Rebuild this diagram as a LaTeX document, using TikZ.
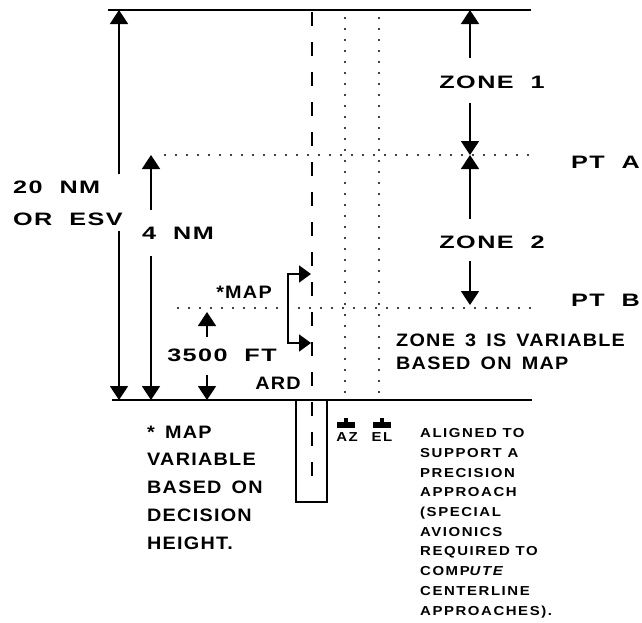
\documentclass[tikz,border=0pt]{standalone}
\usepackage{fontspec}
\setmainfont{Liberation Sans}
\newfontfamily\widefont{Liberation Sans}[FakeStretch=1.4,LetterSpace=8,WordSpace=2]
\newfontfamily\lblfont{Liberation Sans}[FakeStretch=1.1,LetterSpace=7,WordSpace=1.5]
\newfontfamily\notefont{Liberation Sans}[FakeStretch=1.15,LetterSpace=12]
\usetikzlibrary{arrows.meta,calc,positioning}

\begin{document}
\begin{tikzpicture}[x=1pt,y=-1pt,
  wide/.style={inner sep=0pt, font=\widefont\bfseries\fontsize{18}{18}\selectfont},
  lbl/.style={inner sep=0pt, font=\lblfont\bfseries\fontsize{18}{18}\selectfont},
  note/.style={inner sep=0pt, align=left, font=\notefont\bfseries\fontsize{13}{19.7}\selectfont},
  dim/.style={line width=1.8pt, -{Triangle[width=18pt,length=14pt]}},
  bracket/.style={line width=1.8pt, {Triangle[width=17pt,length=12pt]}-{Triangle[width=17pt,length=12pt]}},
  ground/.style={line width=2.2pt},
  centerline/.style={line width=1.8pt, dash pattern=on 14pt off 16pt},
  dotline/.style={line width=2.4pt, line cap=round, dash pattern=on 0pt off 11pt},
]
\useasboundingbox (0,0) rectangle (642,622);

% Levels
\coordinate (top) at (0,10);
\coordinate (ptA) at (0,155);
\coordinate (ptB) at (0,308);
\coordinate (grd) at (0,400);

% Centre line, AZ and EL lines
\draw[centerline] (312,12) -- (312,492);
\draw[dotline] (345,18) -- (345,398);
\draw[dotline] (379,18) -- (379,398);

% Point lines
\draw[dotline] (165,155) -- (531,155);
\draw[dotline] (178,308) -- (531,308);
\node[wide, anchor=west] (pta) at (571,162) {PT A};
\node[wide, anchor=west] (ptb) at (571,300) {PT B};

% Top and ground
\draw[ground] (108,10) -- (531,10);
\draw[ground] (112,400) -- (532,400);

% Runway
\draw[line width=1.5pt] (296,400) rectangle (327,502);

% AZ / EL antennas
\fill (337,422) rectangle (355,428);
\fill (344,418) rectangle (348,422);
\fill (373,422) rectangle (391,428);
\fill (380,418) rectangle (384,422);
\node[inner sep=0pt, font=\notefont\bfseries\fontsize{13}{13}\selectfont] (az) at (347,437) {AZ};
\node[inner sep=0pt, font=\notefont\bfseries\fontsize{13}{13}\selectfont] (el) at (382,437) {EL};

% 20 NM
\coordinate (x20) at (119,0);
\node[wide, align=left, anchor=west, font=\widefont\bfseries\fontsize{18}{32}\selectfont] (nm20) at (13,203) {20 NM\\OR ESV};
\draw[dim, shorten <=6pt] (nm20.north -| x20) -- (x20 |- top);
\draw[dim, shorten <=5pt] (nm20.south -| x20) -- (x20 |- grd);

% 4 NM
\coordinate (x4) at (151,0);
\node[wide] (nm4) at (178,233) {4 NM};
\draw[dim, shorten <=17pt] (nm4.north -| x4) -- (x4 |- ptA);
\draw[dim, shorten <=17pt] (nm4.south -| x4) -- (x4 |- grd);

% 3500 FT
\coordinate (x35) at (207,0);
\node[wide] (ft) at (222,355) {3500 FT};
\draw[dim, shorten <=11pt, shorten >=4pt] (ft.north -| x35) -- (x35 |- ptB);
\draw[dim, shorten <=13pt] (ft.south -| x35) -- (x35 |- grd);
\node[lbl] (ard) at (278,383) {ARD};

% MAP
\node[lbl] (map) at (244,292) {*MAP};
\coordinate (mapA) at (311,274);
\coordinate (mapB) at (311,343);
\draw[bracket] (mapA) -- (288,274) -- (288,343) -- (mapB);

% Zones
\coordinate (zx) at (470,0);
\node[wide] (zone1) at (492,82) {ZONE 1};
\draw[dim, shorten <=17pt] (zone1.north -| zx) -- (zx |- top);
\draw[dim, shorten <=14pt] (zone1.south -| zx) -- (zx |- ptA);
\node[wide] (zone2) at (492,242) {ZONE 2};
\draw[dim, shorten <=16pt] (zone2.north -| zx) -- (zx |- ptA);
\draw[dim, shorten <=12pt, shorten >=3pt] (zone2.south -| zx) -- (zx |- ptB);
\node[lbl, align=left, anchor=west, font=\lblfont\bfseries\fontsize{18}{23}\selectfont] (zone3) at (396,351.5) {ZONE 3 IS VARIABLE\\BASED ON MAP};

% Notes
\node[lbl, align=left, anchor=north west, font=\lblfont\bfseries\fontsize{18}{27.8}\selectfont] (mapnote) at (147,425.5) {* MAP\\VARIABLE\\BASED ON\\DECISION\\HEIGHT.};
\node[note, anchor=north west] (avnote) at (420,428.5) {ALIGNED TO\\SUPPORT A\\PRECISION\\APPROACH\\(SPECIAL\\AVIONICS\\REQUIRED TO\\COMP{\itshape UTE}\\CENTERLINE\\APPROACHES).};
\end{tikzpicture}
\end{document}
